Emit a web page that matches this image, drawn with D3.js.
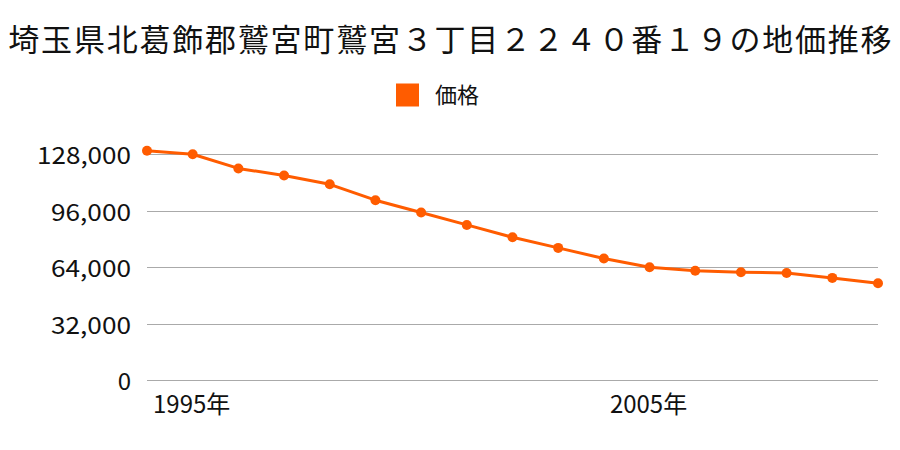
<!DOCTYPE html>
<html><head><meta charset="utf-8">
<script src="https://cdn.jsdelivr.net/npm/d3@7"></script>
<style>body{margin:0;background:#fff}svg{display:block}text{font-family:"Noto Sans CJK JP","Noto Sans",sans-serif;fill:#111}</style>
</head><body>
<svg id="c" width="900" height="450"></svg>
<script>
const title = "埼玉県北葛飾郡鷲宮町鷲宮３丁目２２４０番１９の地価推移";
const seriesName = "価格";
const years = [1995,1996,1997,1998,1999,2000,2001,2002,2003,2004,2005,2006,2007,2008,2009,2010,2011];
const prices = [130000,128000,120000,116000,111000,102000,95000,88000,81000,75000,69000,64000,62000,61200,60800,58000,55000];
const yTicks = [0,32000,64000,96000,128000];
const xLabelYears = [1995,2005];
const color = "#ff5c00";

const svg = d3.select("#c");
const x = d3.scaleLinear().domain([1995,2011]).range([147,878]);
const y = d3.scaleLinear().domain([0,128000]).range([380.3,154.3]);

const t = svg.append("text").attr("x",450).attr("y",51).attr("text-anchor","middle")
  .style("font-size","31px").text(title);
const tw = t.node().getComputedTextLength();
const target = 885;
if (tw < target) t.style("letter-spacing", ((target - tw)/title.length).toFixed(2)+"px").attr("x", 450 + (target-tw)/title.length/2);

// legend
svg.append("rect").attr("x",396).attr("y",83.5).attr("width",23).attr("height",23).attr("fill",color);
svg.append("text").attr("x",435).attr("y",103).style("font-size","22px").text(seriesName);

// grid
svg.append("g").selectAll("line").data(yTicks).join("line")
  .attr("x1",147).attr("x2",878).attr("y1",d=>Math.round(y(d))+0.5).attr("y2",d=>Math.round(y(d))+0.5)
  .attr("stroke","#aaaaaa").attr("stroke-width",1);

const yl = svg.append("g").selectAll("text").data(yTicks).join("text")
  .attr("x",131).attr("y",d=>y(d)+10).attr("text-anchor","end").style("font-size","24px")
  .text(d=>d3.format(",")(d));
// stretch to match the reference's wider digits
yl.each(function(d){
  const el = d3.select(this); const w = this.getComputedTextLength();
  const s = d3.format(",")(d); const tgt = s.length === 7 ? 94 : s.length === 6 ? 80 : null;
  if (tgt && w < tgt) el.attr("textLength", tgt).attr("lengthAdjust","spacingAndGlyphs");
});

svg.append("g").selectAll("text").data(xLabelYears).join("text")
  .attr("x",d=>x(d)+6).attr("y",413).style("font-size","24px").text(d=>d+"年");

const data = years.map((yr,i)=>({yr, v:prices[i]}));
svg.append("path").datum(data).attr("fill","none").attr("stroke",color).attr("stroke-width",3)
  .attr("stroke-linejoin","round")
  .attr("d", d3.line().x(d=>x(d.yr)).y(d=>y(d.v)));
svg.append("g").selectAll("circle").data(data).join("circle")
  .attr("cx",d=>x(d.yr)).attr("cy",d=>y(d.v)).attr("r",5).attr("fill",color);
</script>
</body></html>
